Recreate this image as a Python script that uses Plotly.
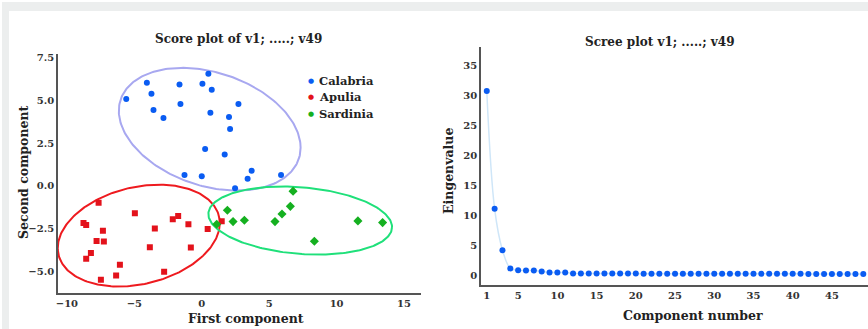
import numpy as np
import plotly.graph_objects as go

# ---------------- data ----------------
calabria_x = [-5.6, -4.07, -3.73, -3.58, -2.84, -1.65, -1.58, 0.05, 0.49, 0.74, 0.64,
              2.72, 2.02, 2.1, 0.25, 1.7, -1.28, 0.0, 3.7, 3.4, 5.88, 2.47]
calabria_y = [5.08, 6.03, 5.39, 4.44, 3.97, 5.93, 4.79, 5.97, 6.55, 5.62, 4.28,
              4.79, 4.03, 3.33, 2.15, 1.84, 0.64, 0.56, 0.89, 0.42, 0.64, -0.14]

apulia_x = [-7.65, -8.77, -8.57, -7.33, -7.8, -7.26, -8.22, -8.57, -6.07, -7.48, -6.35,
            -4.96, -3.48, -3.85, -2.79, -2.15, -1.75, -0.99, -0.81, 0.44, 1.48]
apulia_y = [-0.99, -2.17, -2.29, -2.62, -3.22, -3.26, -3.93, -4.26, -4.61, -5.49, -5.25,
            -1.61, -2.5, -3.59, -5.02, -1.96, -1.76, -2.25, -3.6, -2.52, -2.07]

sardinia_x = [1.11, 1.9, 2.32, 3.16, 5.43, 5.95, 6.57, 6.77, 8.35, 11.58, 13.41]
sardinia_y = [-2.25, -1.43, -2.09, -2.01, -2.09, -1.65, -1.2, -0.31, -3.24, -2.05, -2.15]

# group ellipses: centre x, centre y, half-width x, half-height y, phase
calabria_ellipse = [0.59, 3.31, 6.74, 3.59, 1.876]
apulia_ellipse = [-4.67, -2.91, 6.01, 2.98, 1.323]
sardinia_ellipse = [7.30, -2.03, 6.81, 1.99, 1.762]

component = list(range(1, 50))
eigenvalue = [30.8, 11.1, 4.2, 1.15, 0.85, 0.8, 0.78, 0.65, 0.48, 0.47, 0.46,
              0.3, 0.3, 0.29, 0.29, 0.29, 0.28, 0.28, 0.28, 0.28, 0.27, 0.27, 0.27,
              0.27, 0.27, 0.26, 0.26, 0.26, 0.26, 0.26, 0.25, 0.25, 0.25, 0.25, 0.25,
              0.25, 0.24, 0.24, 0.24, 0.24, 0.24, 0.23, 0.23, 0.23, 0.23, 0.23, 0.22,
              0.22, 0.22]

left_xticks = [-10, -5, 0, 5, 10, 15]
left_yticks = [-5, -2.5, 0, 2.5, 5, 7.5]
right_xticks = [1, 5, 10, 15, 20, 25, 30, 35, 40, 45]
right_yticks = [0, 5, 10, 15, 20, 25, 30, 35]

W, H = 868, 329
FONT = "DejaVu Serif"


def ellipse_path(params, n=240):
    cx, cy, wx, wy, ph = params
    t = np.linspace(0, 2 * np.pi, n)
    return cx + wx * np.cos(t), cy + wy * np.cos(t + ph)


fig = go.Figure()

groups = [
    ("Calabria", calabria_x, calabria_y, calabria_ellipse, "#0a5cf2", "circle", 6, "#a8a8f0"),
    ("Apulia", apulia_x, apulia_y, apulia_ellipse, "#e3121b", "square", 6, "#ee1a1f"),
    ("Sardinia", sardinia_x, sardinia_y, sardinia_ellipse, "#15b020", "diamond", 7, "#1fe07a"),
]

for name, gx, gy, ep, col, sym, sz, ecol in groups:
    ex, ey = ellipse_path(ep)
    fig.add_trace(go.Scatter(x=ex, y=ey, mode="lines", line=dict(color=ecol, width=2),
                             showlegend=False, hoverinfo="skip", xaxis="x", yaxis="y"))
for name, gx, gy, ep, col, sym, sz, ecol in groups:
    fig.add_trace(go.Scatter(x=gx, y=gy, mode="markers", name=name,
                             marker=dict(color=col, symbol=sym, size=sz),
                             showlegend=False, xaxis="x", yaxis="y"))

fig.add_trace(go.Scatter(x=component, y=eigenvalue, mode="lines+markers",
                         line=dict(color="#cfe6f8", width=1.5, shape="spline"),
                         marker=dict(color="#0a5cf2", size=6),
                         showlegend=False, xaxis="x2", yaxis="y2", cliponaxis=False))

tickfont = dict(family=FONT, size=10, color="#333333", weight="bold")
axis_common = dict(showgrid=False, zeroline=False, showline=True, linecolor="#555555",
                   linewidth=1.5, ticks="", tickfont=tickfont)

fig.update_layout(
    width=W, height=H, margin=dict(l=0, r=0, t=0, b=0),
    paper_bgcolor="white", plot_bgcolor="white",
    xaxis=dict(domain=[56 / W, 420 / W], range=[-10.67, 16.26], tickvals=left_xticks,
               anchor="y", **axis_common),
    yaxis=dict(domain=[1 - 293 / H, 1 - 52 / H], range=[-6.28, 7.73], tickvals=left_yticks,
               tickformat=".1f", anchor="x", **axis_common),
    xaxis2=dict(domain=[480 / W, 1.0], range=[0.25, 49.6], tickvals=right_xticks,
                anchor="y2", **axis_common),
    yaxis2=dict(domain=[1 - 285 / H, 1 - 45 / H], range=[-1.67, 38.2], tickvals=right_yticks,
                anchor="x2", **axis_common),
    showlegend=False,
)

# background strips
fig.add_shape(type="rect", xref="paper", yref="paper", x0=0, x1=1, y0=1 - 9 / H, y1=1,
              fillcolor="#eceeee", line_width=0, layer="below")
fig.add_shape(type="rect", xref="paper", yref="paper", x0=0, x1=7 / W, y0=0, y1=1,
              fillcolor="#eceeee", line_width=0, layer="below")

# legend (manual, to match compact spacing)
for i, (name, gx, gy, ep, col, sym, sz, ecol) in enumerate(groups):
    ly = 79 + i * 17
    fig.add_annotation(text="●", x=310 / W, y=1 - ly / H, xref="paper", yref="paper",
                       showarrow=False, xanchor="center", yanchor="middle",
                       font=dict(family="DejaVu Sans", size=7, color=col))
    fig.add_annotation(text=name, x=316 / W, y=1 - ly / H, xref="paper", yref="paper",
                       showarrow=False, xanchor="left", yanchor="middle",
                       font=dict(family=FONT, size=11.5, color="#222222", weight="bold"))

ann = [
    ("Score plot of v1; .....; v49", 237, 37, 0, 12),
    ("Scree plot v1; .....; v49", 660, 40, 0, 12),
    ("First component", 245, 318, 0, 12.5),
    ("Component number", 693, 315, 0, 12.5),
    ("Second component", 22, 171, -90, 12.5),
    ("Eingenvalue", 448, 170, -90, 12.5),
]
for txt, px, py, ang, fs in ann:
    fig.add_annotation(text=txt, x=px / W, y=1 - py / H, xref="paper", yref="paper",
                       showarrow=False, textangle=ang, xanchor="center", yanchor="middle",
                       font=dict(family=FONT, size=fs, color="#222222", weight="bold"))

fig.write_html("out.html")
